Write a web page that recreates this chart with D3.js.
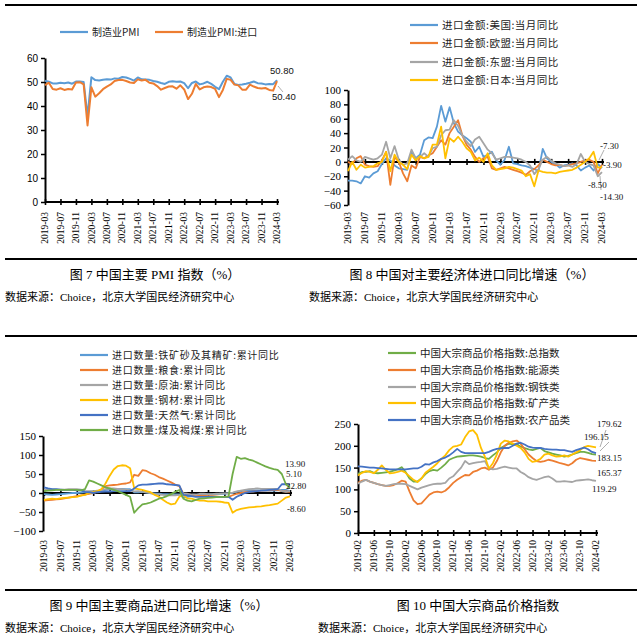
<!DOCTYPE html>
<html><head><meta charset="utf-8">
<script src="https://cdn.jsdelivr.net/npm/d3@7"></script>
<style>body{margin:0;background:#fff}svg{display:block}</style>
</head><body><svg id="c" width="640" height="639"></svg>
<script>
// ---------- DATA ----------
const monthsA = ["2019-03","2019-07","2019-11","2020-03","2020-07","2020-11","2021-03","2021-07","2021-11","2022-03","2022-07","2022-11","2023-03","2023-07","2023-11","2024-03"];
const monthsB = ["2019-02","2019-06","2019-10","2020-02","2020-06","2020-10","2021-02","2021-06","2021-10","2022-02","2022-06","2022-10","2023-02","2023-06","2023-10","2024-02"];

// Fig 7
const pmi = [50.5,50.1,49.4,49.4,49.7,49.5,49.8,49.3,50.2,50.2,
 50.0,35.7,52.0,50.8,50.6,50.9,51.1,51.0,51.5,51.4,52.1,51.9,
 51.3,50.6,51.9,51.1,51.0,50.9,50.4,50.1,49.6,49.2,50.1,50.3,
 50.1,50.2,49.5,47.4,49.6,50.2,49.0,49.4,50.1,49.2,48.0,47.0,
 50.1,52.6,51.9,49.2,48.8,49.0,49.3,49.7,50.2,49.5,49.4,49.0,
 49.2,49.1,50.8];
const pmiImport = [48.7,49.7,47.1,46.8,47.4,46.7,47.1,46.9,49.8,49.9,
 49.0,31.9,47.8,43.9,45.3,47.0,48.1,49.0,50.4,50.8,50.9,50.4,
 49.8,49.6,51.1,50.6,50.9,49.7,49.4,48.3,46.8,47.5,48.1,48.2,
 47.2,48.6,46.9,42.9,45.1,49.2,46.9,47.8,48.1,47.9,47.1,43.7,
 46.7,51.3,50.9,48.9,48.6,46.8,46.8,48.9,48.1,47.5,47.3,47.5,
 46.7,46.4,50.4];

// Fig 8
const usImp = [-26,-26,-27,-30,-20,-22,-16,-13,-3,5, 2,-5,-9,-10,-11,14,5,10,30,34, 33,49,78,56,76,54,42,37,33,28, 14,21,7,10,14,2,-4,3,21,-2, -3,-5,-6,-8,-10,-13,18,5,0,-3, -8,-5,-4,-2,-5,-12,-8,-5,-12,-3,-8.5];
const euImp = [0,-3,5,8,-4,-6,-7,-6,2,14, -32,7,0,-16,-27,-5,-9,7,5,9, 12,21,30,24,40,49,58,37,24,17, 7,0,5,7,-9,-11,-9,-7,-9,-11, -13,-15,-18,-13,-10,-5,3,0,-3,-5, -4,-6,-5,-3,-2,0,2,3,0,-16,-3.9];
const aseanImp = [3,8,2,0,7,5,3,5,10,28, 5,22,3,-4,-2,17,5,7,12,7, 19,21,37,44,45,58,50,37,28,22, 31,35,26,17,12,3,5,7,7,6, 5,3,0,-5,-17,-10,3,7,2,-2, -4,-6,-5,-7,-3,11,0,-3,-5,-20,-14.3];
const japanImp = [-13,0,-11,-4,-8,-7,-6,-2,0,14, -13,10,0,-4,-10,10,2,8,5,7, 24,24,49,5,33,28,35,28,19,14, 2,6,0,12,-5,-11,-10,-9,-7,-8, -10,-12,-20,-17,-34,-12,-14,-15,-15,-16, -14,-13,-12,-11,-8,-4,0,5,14,-8,-7.3];

// Fig 9
const ironOre = [-3,-4,-5,-4,-3,-2,-1,0,0,1, 2,3,4,5,6,8,10,10,11,11, 10,10,2,2,3,1,0,-1,-2,-3, -3,-4,-4,-4,-12,-10,-8,-6,-5,-5, -4,-4,-3,-2,-2,-1,0,3,5,6, 7,7,7,7,6,6,6,7,8,8,5.1];
const grain = [-20,-19,-18,-17,-16,-14,-12,-10,-8,-6, -4,-2,0,3,10,18,20,21,22,24, 25,28,48,45,60,58,52,48,42,38, 33,28,22,18,-2,-3,-5,-6,-7,-7, -8,-8,-9,-10,-10,-10,-6,-2,0,2, 3,4,5,6,7,7,8,8,5,4,3];
const crude = [8,8,9,9,9,9,10,10,10,9, 5,5,5,6,7,10,12,12,11,10, 9,7,4,5,3,2,-1,-3,-4,-5, -6,-6,-6,-5,-1,-2,-4,-4,-2,-2, -3,-3,-2,-2,-1,-1,1,4,6,8, 10,11,12,11,11,11,11,11,5,3,5.1];
const steel = [-18,-16,-15,-16,-14,-13,-12,-11,-10,-7, -5,0,2,5,10,25,45,62,71,73, 72,65,12,10,8,5,2,-5,-10,-18, -25,-30,-28,-10,-5,-15,-15,-18,-20,-20, -22,-22,-22,-23,-25,-26,-52,-45,-42,-40, -38,-37,-36,-35,-33,-32,-30,-28,-20,-12,-8.6];
const gas = [15,12,10,10,9,8,8,8,7,7, 3,2,0,2,3,4,4,5,5,5, 5,5,12,20,22,22,23,24,25,25, 23,22,21,20,-5,-6,-8,-10,-10,-10, -10,-10,-10,-10,-10,-10,-18,-10,-5,0, 2,4,5,6,7,8,9,10,23,23,22.8];
const coal = [5,6,7,8,8,8,8,8,8,7, 10,33,30,25,20,15,12,8,5,0, -5,-10,-52,-40,-30,-28,-25,-20,-15,-12, -8,-3,3,8,-15,-20,-22,-18,-15,-14, -13,-12,-11,-10,-10,-9,50,95,90,92, 88,85,80,75,70,66,63,61,50,23,13.9];

// Fig 10
const totalIdx = [136,140,140,142,138,137,138,139,140,143, 146,151,140,125,118,118,125,135,142,145, 143,150,158,168,172,175,176,177,178,178, 177,175,172,170,178,185,195,200,205,203, 204,198,195,192,190,193,195,188,185,182, 180,178,175,177,180,183,186,186,184,181,179.62];
const energyIdx = [115,120,122,118,115,112,110,108,108,110, 114,120,118,95,75,66,68,78,88,93, 95,93,97,105,115,122,128,133,132,140, 143,148,150,145,150,165,185,200,207,210, 212,205,192,180,172,165,163,165,168,166, 163,160,158,155,160,168,172,170,168,166,165.37];
const steelIdx = [113,118,122,118,115,112,110,108,110,112, 113,113,112,108,104,100,104,107,110,112, 113,113,115,125,130,140,150,165,158,160, 162,163,165,148,146,147,150,152,150,148, 148,140,135,128,124,122,125,128,130,125, 118,118,119,118,117,120,121,122,123,121,119.29];
const mineralIdx = [132,138,142,140,137,145,155,145,137,138, 140,143,138,130,122,117,125,138,145,152, 160,170,178,190,198,200,203,220,233,236, 225,195,175,148,160,180,205,212,210,205, 200,195,185,170,163,165,170,180,182,178, 175,176,178,175,180,185,190,197,200,198,196.15];
const agriIdx = [153,152,151,150,150,149,148,147,146,146, 146,146,146,147,148,148,152,158,157,162, 165,170,173,178,185,193,186,183,183,183, 183,183,183,186,190,193,194,195,195,200, 205,207,203,198,196,195,195,193,192,191, 191,190,190,188,186,190,193,196,192,186,183.15];

// ---------- DRAW ----------
const svg = d3.select("#c");
svg.append("rect").attr("width",640).attr("height",639).attr("fill","#fff");
const CJK = '"Noto Sans CJK SC", sans-serif';
const SERIF = '"Liberation Serif", "Noto Sans CJK SC", serif';
const SANS = '"Liberation Sans", "Noto Sans CJK SC", sans-serif';
const C = {blue:"#5B9BD5", orange:"#ED7D31", gray:"#A5A5A5", yellow:"#FFC000", dblue:"#4472C4", green:"#70AD47"};

[5, 259, 336, 590].forEach(yy => svg.append("line").attr("x1",5).attr("x2",637).attr("y1",yy).attr("y2",yy)
  .attr("stroke","#000").attr("stroke-width",2));

function panel(o){
  const x = d3.scaleLinear().domain([0,60]).range(o.xr);
  const y = d3.scaleLinear().domain(o.yd).range(o.yr);
  const g = svg.append("g");
  const xa = g.append("g").attr("transform",`translate(0,${y(0)})`)
    .call(d3.axisBottom(x).tickValues(d3.range(0,61,4)).tickSize(3).tickSizeOuter(0).tickFormat(""));
  xa.select(".domain").attr("stroke-width",2).attr("d",`M${o.ax},0H${o.xr[1]+2}`);
  xa.selectAll(".tick line").attr("y1",-3).attr("stroke-width",1.6);
  const ya = g.append("g").attr("transform",`translate(${o.ax},0)`)
    .call(d3.axisLeft(y).tickValues(d3.range(o.yd[0],o.yd[1]+1e-9,o.ys)).tickSize(4).tickSizeOuter(0).tickPadding(3));
  ya.select(".domain").attr("stroke-width",2);
  ya.selectAll(".tick line").attr("stroke-width",1.5);
  ya.selectAll("text").style("font-family",o.yfont).style("font-size",o.yfs+"px").attr("fill","#000");
  g.selectAll(null).data(o.xlabels).join("text")
    .attr("transform",(d,i)=>`translate(${x(i*4)},${o.labTop}) rotate(-90)`)
    .attr("text-anchor","end").attr("dy","0.33em")
    .style("font-family",SERIF).style("font-size","9.5px").attr("fill","#000").text(d=>d);
  const line = d3.line().x((d,i)=>x(i)).y(d=>y(d));
  o.series.forEach(s => g.append("path").datum(s.values).attr("d",line).attr("fill","none")
    .attr("stroke",s.color).attr("stroke-width",o.sw).attr("stroke-linejoin","round"));
  o.series.forEach((s,k)=>{
    const p = o.leg[k];
    g.append("line").attr("x1",p[0]).attr("x2",p[0]+28).attr("y1",p[1]).attr("y2",p[1])
      .attr("stroke",s.color).attr("stroke-width",2.2);
    g.append("text").attr("x",p[0]+32).attr("y",p[1]).attr("dy","0.35em")
      .style("font-family",CJK).style("font-size",o.lfs+"px").style("letter-spacing",(o.lls||0)+"px")
      .attr("fill","#222").text(s.name);
  });
  (o.leaders||[]).forEach(l => g.append("line").attr("x1",l[0]).attr("y1",l[1]).attr("x2",l[2]).attr("y2",l[3])
    .attr("stroke","#999").attr("stroke-width",0.8));
  (o.vlabels||[]).forEach(v => g.append("text").attr("x",v[1]).attr("y",v[2]).text(v[0])
    .style("font-family",o.vfont).style("font-size",o.vfs+"px").attr("fill","#111"));
  g.append("text").attr("x",o.cap[1]).attr("y",o.cap[2]).attr("text-anchor","middle").text(o.cap[0])
    .style("font-family",SERIF).style("font-size","13px").attr("fill","#000");
  g.append("text").attr("x",o.src[0]).attr("y",o.src[1]).text("数据来源：Choice，北京大学国民经济研究中心")
    .style("font-family",SERIF).style("font-size","11px").attr("fill","#000");
}

panel({
  xr:[45,277], ax:45, yd:[0,60], yr:[202,58], ys:10, yfont:SANS, yfs:10, labTop:212, sw:2,
  xlabels: monthsA,
  series:[{name:"制造业PMI",color:C.blue,values:pmi},{name:"制造业PMI:进口",color:C.orange,values:pmiImport}],
  leg:[[60,32],[155,32]], lfs:10,
  vlabels:[["50.80",270,74],["50.40",272,100]], vfont:SANS, vfs:9.5,
  leaders:[[278,86,283,92]],
  cap:["图 7 中国主要 PMI 指数（%）",155,279], src:[5,301]
});

panel({
  xr:[348,602], ax:348, yd:[-60,100], yr:[205,90], ys:20, yfont:SERIF, yfs:11, labTop:212, sw:1.8,
  xlabels: monthsA,
  series:[{name:"进口金额:美国:当月同比",color:C.blue,values:usImp},
          {name:"进口金额:欧盟:当月同比",color:C.orange,values:euImp},
          {name:"进口金额:东盟:当月同比",color:C.gray,values:aseanImp},
          {name:"进口金额:日本:当月同比",color:C.yellow,values:japanImp}],
  leg:[[410,25],[410,43],[410,62],[410,80]], lfs:10.5, lls:0.5,
  vlabels:[["-7.30",600,149],["-3.90",603,168],["-8.50",588,188],["-14.30",600,200]], vfont:SERIF, vfs:9,
  leaders:[[604,150,599,160],[601,190,600,176]],
  cap:["图 8 中国对主要经济体进口同比增速（%）",472,279], src:[309,301]
});

panel({
  xr:[44,290], ax:43, yd:[-100,150], yr:[531,436], ys:50, yfont:SERIF, yfs:11, labTop:540, sw:1.8,
  xlabels: monthsA,
  series:[{name:"进口数量:铁矿砂及其精矿:累计同比",color:C.blue,values:ironOre},
          {name:"进口数量:粮食:累计同比",color:C.orange,values:grain},
          {name:"进口数量:原油:累计同比",color:C.gray,values:crude},
          {name:"进口数量:钢材:累计同比",color:C.yellow,values:steel},
          {name:"进口数量:天然气:累计同比",color:C.dblue,values:gas},
          {name:"进口数量:煤及褐煤:累计同比",color:C.green,values:coal}],
  leg:[[80,355],[80,370],[80,385],[80,400],[80,415],[80,430]], lfs:10, lls:0.7,
  vlabels:[["13.90",285,467],["5.10",286,477],["22.80",286,489],["-8.60",287,512]], vfont:SERIF, vfs:9,
  cap:["图 9 中国主要商品进口同比增速（%）",159,610], src:[5,632]
});

panel({
  xr:[358,596], ax:358, yd:[0,250], yr:[533,424], ys:50, yfont:SERIF, yfs:11, labTop:540, sw:1.8,
  xlabels: monthsB,
  series:[{name:"中国大宗商品价格指数:总指数",color:C.green,values:totalIdx},
          {name:"中国大宗商品价格指数:能源类",color:C.orange,values:energyIdx},
          {name:"中国大宗商品价格指数:钢铁类",color:C.gray,values:steelIdx},
          {name:"中国大宗商品价格指数:矿产类",color:C.yellow,values:mineralIdx},
          {name:"中国大宗商品价格指数:农产品类",color:C.dblue,values:agriIdx}],
  leg:[[388,353],[388,370],[388,387],[388,403],[388,420]], lfs:10.5,
  vlabels:[["179.62",597,427],["196.15",584,440],["183.15",597,461],["165.37",597,476],["119.29",592,492]], vfont:SERIF, vfs:9,
  leaders:[[606,430,600,447],[609,442,600,451]],
  cap:["图 10 中国大宗商品价格指数",478,610], src:[318,632]
});
</script></body></html>
